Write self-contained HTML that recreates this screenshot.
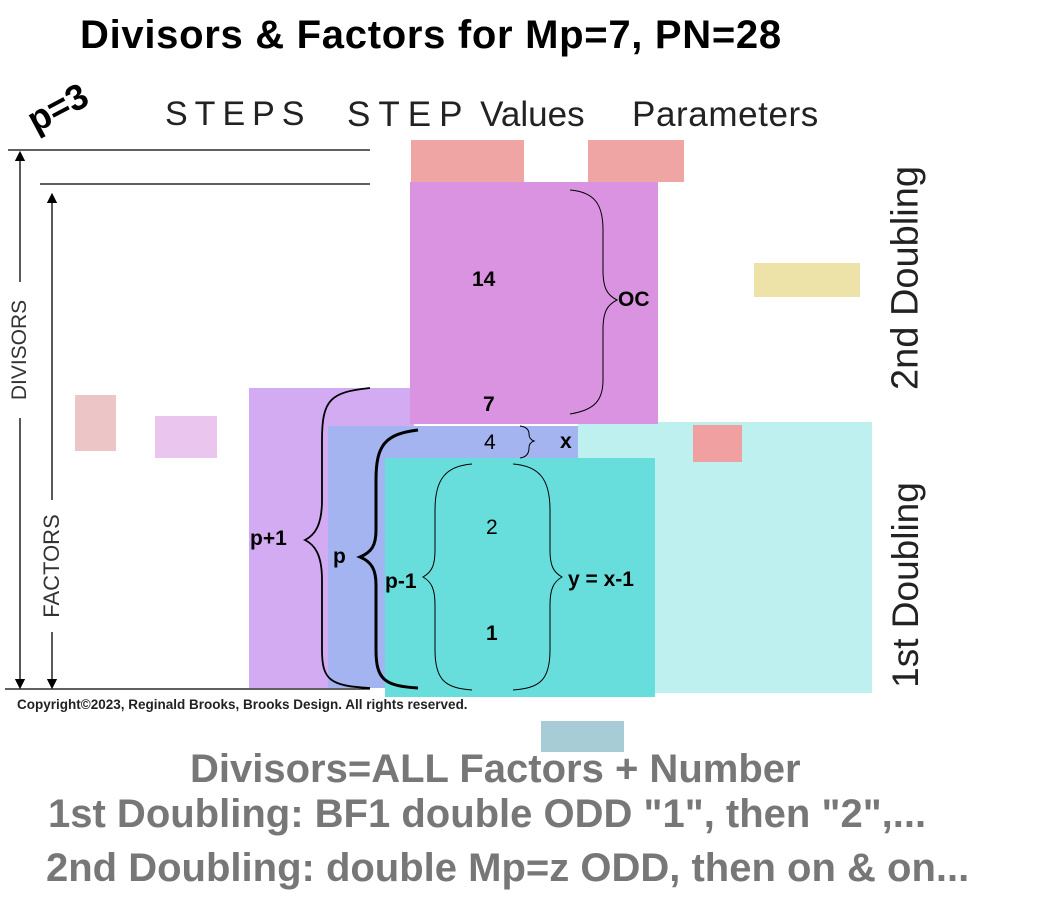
<!DOCTYPE html>
<html><head><meta charset="utf-8"><style>
body{margin:0;width:1050px;height:898px;background:#fff;position:relative;overflow:hidden;font-family:"Liberation Sans",sans-serif}
.r{position:absolute}
.t{position:absolute;white-space:nowrap}
</style></head><body>
<div class="t" style="left:80px;top:13px;font-size:40px;font-weight:bold;letter-spacing:0.7px">Divisors &amp; Factors for Mp=7, PN=28</div>
<div class="t" style="left:20px;top:104px;font-size:36px;font-weight:bold;transform:rotate(-28deg);transform-origin:left top">p=3</div>
<div class="t" style="left:165px;top:95px;font-size:34px;font-weight:300;color:#222;letter-spacing:7px">STEPS</div>
<div class="t" style="left:347px;top:95px;font-size:35px;font-weight:300;color:#222"><span style="letter-spacing:8px">STEP</span> Values</div>
<div class="t" style="left:632px;top:95px;font-size:35px;font-weight:300;color:#222;letter-spacing:0.6px">Parameters</div>

<div class="r" style="left:411px;top:140px;width:113px;height:42px;background:#f0a5a5"></div>
<div class="r" style="left:588px;top:140px;width:96px;height:42px;background:#f0a5a5"></div>
<div class="r" style="left:754px;top:263px;width:106px;height:34px;background:#ede2a8"></div>
<div class="r" style="left:75px;top:395px;width:41px;height:56px;background:#ecc6c6"></div>
<div class="r" style="left:155px;top:416px;width:62px;height:42px;background:#eac6ee"></div>
<div class="r" style="left:578px;top:422px;width:294px;height:271px;background:#bdf0ee"></div>
<div class="r" style="left:249px;top:388px;width:165px;height:300px;background:#d2abf2"></div>
<div class="r" style="left:410px;top:182px;width:248px;height:242px;background:#da93e0"></div>
<div class="r" style="left:328px;top:426px;width:250px;height:262px;background:#a3b4f0"></div>
<div class="r" style="left:385px;top:458px;width:270px;height:239px;background:#68dedc"></div>
<div class="r" style="left:693px;top:425px;width:49px;height:37px;background:#f0a0a0"></div>
<div class="r" style="left:541px;top:721px;width:83px;height:31px;background:#a8ccd6"></div>

<svg class="r" style="left:0;top:0" width="1050" height="898">
<defs><marker id="a" markerWidth="8" markerHeight="8" refX="4" refY="4" orient="auto"><path d="M0,0L8,4L0,8z" fill="#000"/></marker></defs>
<g stroke="#000" stroke-width="1.3" fill="none">
<line x1="8" y1="150" x2="370" y2="150"/>
<line x1="40" y1="184" x2="370" y2="184"/>
<line x1="5" y1="689" x2="370" y2="689"/>
<line x1="20" y1="282" x2="20" y2="156" marker-end="url(#a)"/>
<line x1="20" y1="418" x2="20" y2="684" marker-end="url(#a)"/>
<line x1="52" y1="500" x2="52" y2="198" marker-end="url(#a)"/>
<line x1="52" y1="632" x2="52" y2="684" marker-end="url(#a)"/>
<path d="M370,388 C330,392 322,400 322,440 L322,500 C322,525 315,535 305,540 C315,545 322,555 322,580 L322,650 C322,680 330,686 370,688" stroke-width="1.8"/>
<path d="M418,430 C385,434 376,445 376,480 L376,530 C376,545 372,552 360,557 C372,562 376,570 376,585 L376,650 C376,680 385,686 418,688" stroke-width="3"/>
<path d="M472,464 C445,466 435,480 435,510 L435,550 C435,565 432,572 423,577 C432,582 435,590 435,605 L435,650 C435,680 445,688 472,690" stroke-width="1"/>
<path d="M513,464 C540,466 550,480 550,510 L550,550 C550,565 553,572 562,577 C553,582 550,590 550,605 L550,650 C550,680 540,688 513,690" stroke-width="1"/>
<path d="M570,190 C595,192 603,205 603,230 L603,270 C603,288 607,295 617,300 C607,305 603,312 603,330 L603,380 C603,400 595,410 570,414" stroke-width="1"/>
<path d="M520,426 C527,427 529,430 529,434 C529,438 531,440 534,441 C531,442 529,444 529,448 C529,453 527,457 520,458" stroke-width="1"/>
</g>
</svg>

<div class="t" style="left:20px;top:350px;font-size:21px;font-weight:300;color:#333;transform:translate(-50%,-50%) rotate(-90deg)">DIVISORS</div>
<div class="t" style="left:52px;top:566px;font-size:22px;font-weight:300;color:#333;transform:translate(-50%,-50%) rotate(-90deg)">FACTORS</div>
<div class="t" style="left:906px;top:278px;font-size:38px;font-weight:300;color:#222;transform:translate(-50%,-50%) rotate(-90deg)">2nd Doubling</div>
<div class="t" style="left:906px;top:585px;font-size:37px;font-weight:300;color:#222;transform:translate(-50%,-50%) rotate(-90deg)">1st Doubling</div>

<div class="t" style="left:472px;top:268px;font-size:21px;font-weight:bold">14</div>
<div class="t" style="left:618px;top:288px;font-size:21px;font-weight:bold">OC</div>
<div class="t" style="left:483px;top:393px;font-size:21px;font-weight:bold">7</div>
<div class="t" style="left:484px;top:431px;font-size:21px">4</div>
<div class="t" style="left:560px;top:430px;font-size:21px;font-weight:bold">x</div>
<div class="t" style="left:486px;top:516px;font-size:21px">2</div>
<div class="t" style="left:486px;top:622px;font-size:21px;font-weight:bold">1</div>
<div class="t" style="left:250px;top:527px;font-size:21px;font-weight:bold">p+1</div>
<div class="t" style="left:333px;top:545px;font-size:21px;font-weight:bold">p</div>
<div class="t" style="left:385px;top:570px;font-size:21px;font-weight:bold">p-1</div>
<div class="t" style="left:568px;top:568px;font-size:21px;font-weight:bold">y = x-1</div>

<div class="t" style="left:17px;top:697px;font-size:13.5px;font-weight:bold;color:#222">Copyright©2023, Reginald Brooks, Brooks Design. All rights reserved.</div>
<div class="t" style="left:190px;top:747px;font-size:40px;font-weight:bold;color:#777">Divisors=ALL Factors + Number</div>
<div class="t" style="left:48px;top:792px;font-size:40px;font-weight:bold;color:#777">1st Doubling: BF1 double ODD "1", then "2",...</div>
<div class="t" style="left:46px;top:846px;font-size:40px;font-weight:bold;color:#777">2nd Doubling: double Mp=z ODD, then on &amp; on...</div>
</body></html>
